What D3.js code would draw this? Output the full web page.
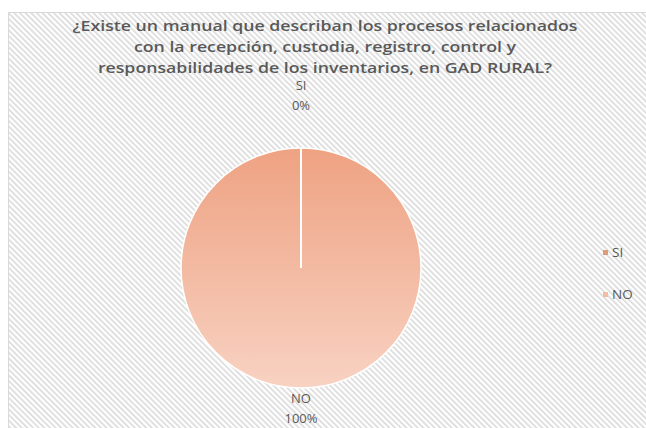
<!DOCTYPE html>
<html>
<head>
<meta charset="utf-8">
<script src="https://cdn.jsdelivr.net/npm/d3@7"></script>
<style>
  body { margin: 0; background: #fff; }
  text { font-family: "Open Sans", "Liberation Sans", sans-serif; fill: #595959; }
</style>
</head>
<body>
<div id="chart"></div>
<script>
// chart data
const CATEGORIES = ["SI", "NO"];
const VALUES = [0, 100];
const PCT_LABELS = ["0%", "100%"];
const TITLE_LINES = [
  "¿Existe un manual que describan los procesos relacionados",
  "con la recepción, custodia, registro, control y",
  "responsabilidades de los inventarios, en GAD RURAL?"
];

const FRAME_WIDTH = 646;
const FRAME_HEIGHT = 428;
const CENTER = {x: 301, y: 268};
const RADIUS = 120;

const FRAME = d3.select("#chart")
  .append("svg")
  .attr("width", FRAME_WIDTH)
  .attr("height", FRAME_HEIGHT);

const DEFS = FRAME.append("defs");

// striped background
const STRIPES = DEFS.append("pattern")
  .attr("id", "stripes")
  .attr("patternUnits", "userSpaceOnUse")
  .attr("width", 4)
  .attr("height", 4)
  .attr("patternTransform", "rotate(-45)");
STRIPES.append("rect").attr("width", 4).attr("height", 4).attr("fill", "#ffffff");
STRIPES.append("rect").attr("width", 1.6).attr("height", 4).attr("fill", "#d9d9d9");

// pie gradient (in the pie group's coordinates)
const GRAD = DEFS.append("linearGradient")
  .attr("id", "pieGrad")
  .attr("gradientUnits", "userSpaceOnUse")
  .attr("x1", 0).attr("y1", -RADIUS)
  .attr("x2", 0).attr("y2", RADIUS);
GRAD.append("stop").attr("offset", "0%").attr("stop-color", "#EEA282");
GRAD.append("stop").attr("offset", "100%").attr("stop-color", "#F8D2C2");

FRAME.append("rect")
  .attr("x", 8.5).attr("y", 12.5)
  .attr("width", FRAME_WIDTH).attr("height", FRAME_HEIGHT)
  .attr("fill", "url(#stripes)")
  .attr("stroke", "#d9d9d9");

// title
const TITLE = FRAME.append("g")
  .selectAll("text")
  .data(TITLE_LINES)
  .enter()
  .append("text")
  .attr("x", 325)
  .attr("y", (d, i) => 31 + i * 20.8)
  .attr("text-anchor", "middle")
  .attr("font-size", "15px")
  .attr("font-weight", 600)
  .text((d) => d);

// stretch the lines so the first one is as wide as in the picture
const FIRST_W = TITLE.nodes()[0].getComputedTextLength();
const STRETCH = 505 / FIRST_W;
TITLE.each(function() {
  const w = this.getComputedTextLength();
  d3.select(this)
    .attr("textLength", w * STRETCH)
    .attr("lengthAdjust", "spacingAndGlyphs");
});

// pie
const PIE = d3.pie().sort(null).value((d) => d)(VALUES);
const ARC = d3.arc().innerRadius(0).outerRadius(RADIUS);
const COLOR = d3.scaleOrdinal().domain(CATEGORIES).range(["#E39A78", "#F5BCA4"]);

const G = FRAME.append("g")
  .attr("transform", "translate(" + CENTER.x + "," + CENTER.y + ")");

G.selectAll("path")
  .data(PIE)
  .enter()
  .append("path")
  .attr("d", ARC)
  .attr("fill", "url(#pieGrad)")
  .attr("stroke", "#ffffff")
  .attr("stroke-width", 1.5);

// slice borders (the 0% slice collapses into a single white edge)
G.selectAll("line.edge")
  .data(PIE)
  .enter()
  .append("line")
  .attr("class", "edge")
  .attr("x1", 0).attr("y1", 0)
  .attr("x2", (d) => RADIUS * Math.sin(d.startAngle))
  .attr("y2", (d) => -RADIUS * Math.cos(d.startAngle))
  .attr("stroke", "#ffffff")
  .attr("stroke-width", 2);

// data labels (outside end)
const LABEL_POS = [
  {x: 0, y: -178},
  {x: 0, y: 135}
];
CATEGORIES.forEach((c, i) => {
  const t = G.append("text")
    .attr("text-anchor", "middle")
    .attr("font-size", "13px");
  t.append("tspan").attr("x", LABEL_POS[i].x).attr("y", LABEL_POS[i].y).text(c);
  t.append("tspan").attr("x", LABEL_POS[i].x).attr("y", LABEL_POS[i].y + 20).text(PCT_LABELS[i]);
});

// legend
const LEGEND = FRAME.append("g")
  .attr("transform", "translate(603,250)");
const ITEM = LEGEND.selectAll("g")
  .data(CATEGORIES)
  .enter()
  .append("g")
  .attr("transform", (d, i) => "translate(0," + i * 42 + ")");
ITEM.append("rect")
  .attr("width", 5).attr("height", 5)
  .attr("fill", (d) => COLOR(d));
ITEM.append("text")
  .attr("x", 9).attr("y", 7)
  .attr("font-size", "13.5px")
  .text((d) => d);
</script>
</body>
</html>
